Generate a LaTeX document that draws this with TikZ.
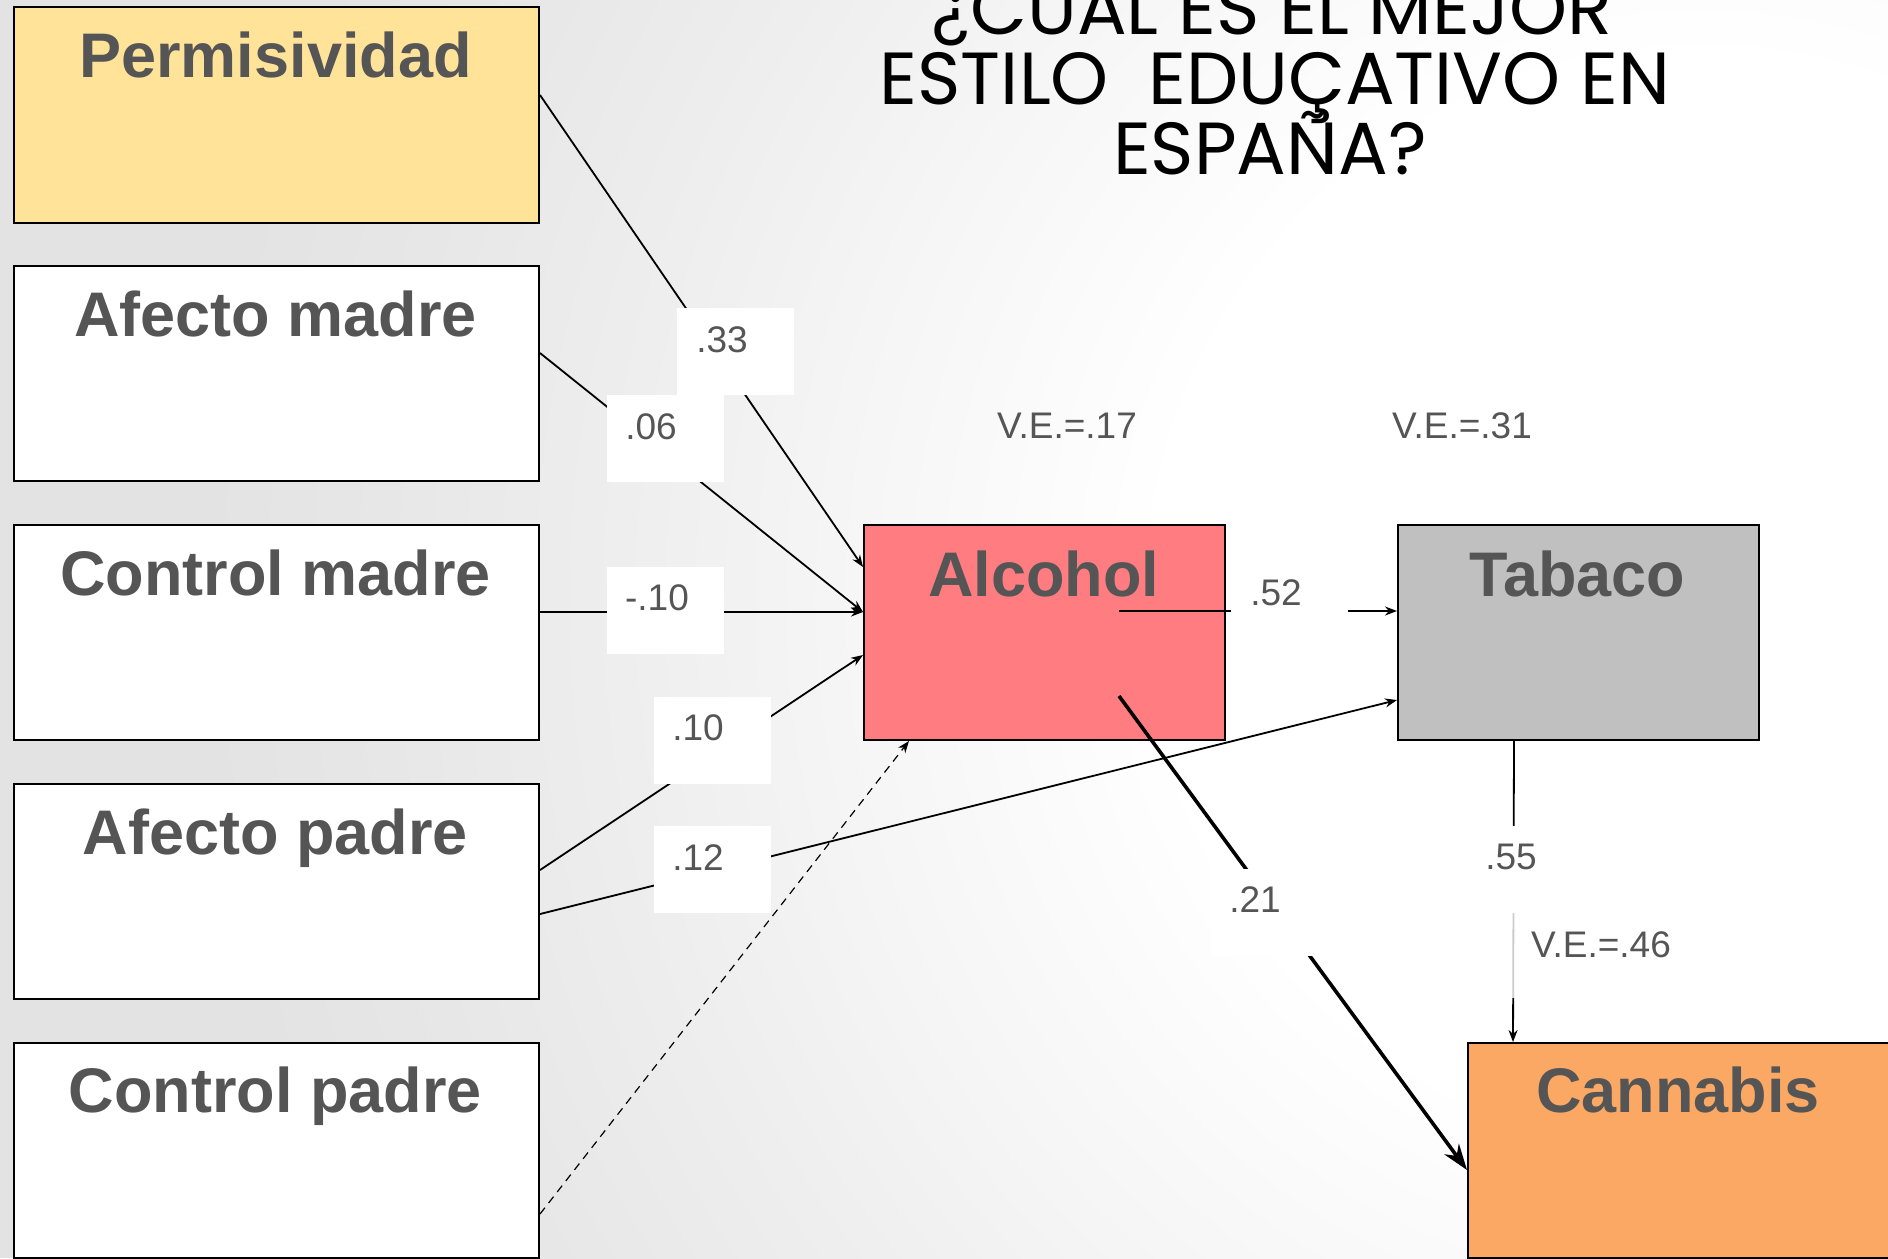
\documentclass[tikz,border=0pt]{standalone}
\usepackage{fontspec}
\setmainfont{Liberation Sans}
\newfontfamily\titlefont{Poppins}
\usetikzlibrary{arrows.meta,calc}
\definecolor{permcol}{HTML}{FFE399}
\definecolor{alccol}{HTML}{FF7C80}
\definecolor{tabcol}{HTML}{C0C0C0}
\definecolor{cancol}{HTML}{FAA864}
\definecolor{txtgray}{HTML}{555555}
\definecolor{bgA}{HTML}{F6F6F6}
\definecolor{bgB}{HTML}{EEEEEE}
\definecolor{bgC}{HTML}{E7E7E7}
\definecolor{bgD}{HTML}{E3E3E3}
\pgfdeclareradialshading{bgrad}{\pgfpoint{0bp}{0bp}}{color(0bp)=(white); color(9bp)=(white); color(14bp)=(bgA); color(18bp)=(bgB); color(22bp)=(bgC); color(25bp)=(bgD); color(50bp)=(bgD)}
\begin{document}
\begin{tikzpicture}[x=0.5pt,y=-0.5pt,
  srcbox/.style={draw=black, line width=1pt, inner sep=0pt, anchor=north west, minimum width=262.5pt, minimum height=107.5pt},
  midbox/.style={draw=black, line width=1pt, inner sep=0pt, anchor=north west, minimum width=180.5pt, minimum height=107.5pt},
  boxtxt/.style={anchor=base, text=txtgray, font=\fontsize{31.5}{36}\selectfont\bfseries, inner sep=0pt},
  lblbox/.style={fill=white, inner sep=0pt, minimum width=58.5pt, minimum height=43.5pt},
  lbltxt/.style={text=txtgray, font=\fontsize{18.5}{22}\selectfont, inner sep=0pt},
  titletxt/.style={anchor=base, inner sep=0pt, font=\titlefont\fontsize{36.9}{40}\selectfont},
  thinarr/.style={line width=0.9pt, -{Stealth[length=6pt,width=4.5pt]}},
  thickarr/.style={line width=1.8pt, -{Stealth[length=13pt,width=9pt]}},
  dasharr/.style={line width=0.6pt, dash pattern=on 4pt off 3pt, -{Stealth[length=6pt,width=4.5pt]}}
]
\useasboundingbox (0,0) rectangle (1888,1258);
\clip (0,0) rectangle (1888,1258);
\fill[bgD] (0,0) rectangle (1888,1258);
\shade[shading=bgrad] (1700,600) circle (1500);

% title
\node[titletxt] (t1) at (1272,34) {¿CUAL ES EL MEJOR};
\node[titletxt] (t2) at (1275,104) {ESTILO\ \ EDUÇATIVO EN};
\node[titletxt] (t3) at (1270,174) {ESPAÑA?};

% boxes
\node[srcbox, fill=permcol, minimum height=108pt] (perm) at (13,6) {};
\node[srcbox, fill=white] (amad) at (13,265) {};
\node[srcbox, fill=white] (cmad) at (13,524) {};
\node[srcbox, fill=white] (apad) at (13,783) {};
\node[srcbox, fill=white] (cpad) at (13,1042) {};
\node[midbox, fill=alccol] (alc) at (863,524) {};
\node[midbox, fill=tabcol] (tab) at (1397,524) {};
\node[srcbox, fill=cancol, minimum width=215pt] (can) at (1467,1042) {};

\node[boxtxt] (permT) at (275.5,77) {Permisividad};
\node[boxtxt] (amadT) at (275.5,336) {Afecto madre};
\node[boxtxt] (cmadT) at (275.5,595) {Control madre};
\node[boxtxt] (apadT) at (275.5,854) {Afecto padre};
\node[boxtxt] (cpadT) at (275.5,1112) {Control padre};
\node[boxtxt] (alcT) at (1043.5,596) {Alcohol};
\node[boxtxt] (tabT) at (1577.5,596) {Tabaco};
\node[boxtxt] (canT) at (1678,1112) {Cannabis};

% connectors
\coordinate (alcA) at (1119,611);
\coordinate (alcB) at (1119,696);
\draw[thinarr] ($(perm.east)+(0,-20)$) -- ($(alc.west)+(0,-65.5)$);
\draw[thinarr] ($(amad.east)+(0,-20.5)$) -- ($(alc.west)+(0,-20.5)$);
\draw[thinarr] ($(cmad.east)+(0,-20.5)$) -- ($(alc.west)+(0,-20.5)$);
\draw[thinarr] ($(apad.east)+(0,-21.5)$) -- ($(alc.west)+(0,22.5)$);
\draw[thinarr] ($(apad.east)+(0,22.5)$) -- ($(tab.west)+(0,67.5)$);
\draw[dasharr] ($(cpad.east)+(0,63.5)$) -- ($(alc.south)+(-135.5,0)$);
\draw[thinarr] (alcA) -- (tab.west |- alcA);
\draw[thickarr] (alcB) -- ($(can.west)+(0,19.5)$);
\draw[thinarr] ($(tab.south)+(-64.5,0)$) -- ($(can.north west)+(46,0)$);

% coefficient labels
\node[lblbox] (b33) at (735.5,351.5) {};
\node[lbltxt] (l33) at (722,340) {.33};
\node[lblbox] (b06) at (665.5,438.5) {};
\node[lbltxt] (l06) at (651,427) {.06};
\node[lblbox] (b10n) at (665.5,610) {};
\node[lbltxt] (l10n) at (657,598) {-.10};
\node[lblbox] (b10) at (712.5,740.5) {};
\node[lbltxt] (l10) at (698,728) {.10};
\node[lblbox] (b12) at (712.5,869.5) {};
\node[lbltxt] (l12) at (698,858) {.12};
\node[lblbox] (b52) at (1289.5,604.5) {};
\node[lbltxt] (l52) at (1276,593) {.52};
\node[lblbox] (b21) at (1269.5,912) {};
\node[lbltxt] (l21) at (1255,900) {.21};
\node[lblbox] (b55) at (1524,869.5) {};
\node[lbltxt] (l55) at (1511,857) {.55};
\node[fill=white, fill opacity=0.8, inner sep=0pt, minimum width=100pt, minimum height=42.5pt] (b46) at (1595,955.5) {};

\node[lbltxt] (ve17) at (1067,426) {V.E.=.17};
\node[lbltxt] (ve31) at (1462,426) {V.E.=.31};
\node[lbltxt] (ve46) at (1601,945) {V.E.=.46};
\end{tikzpicture}
\end{document}
